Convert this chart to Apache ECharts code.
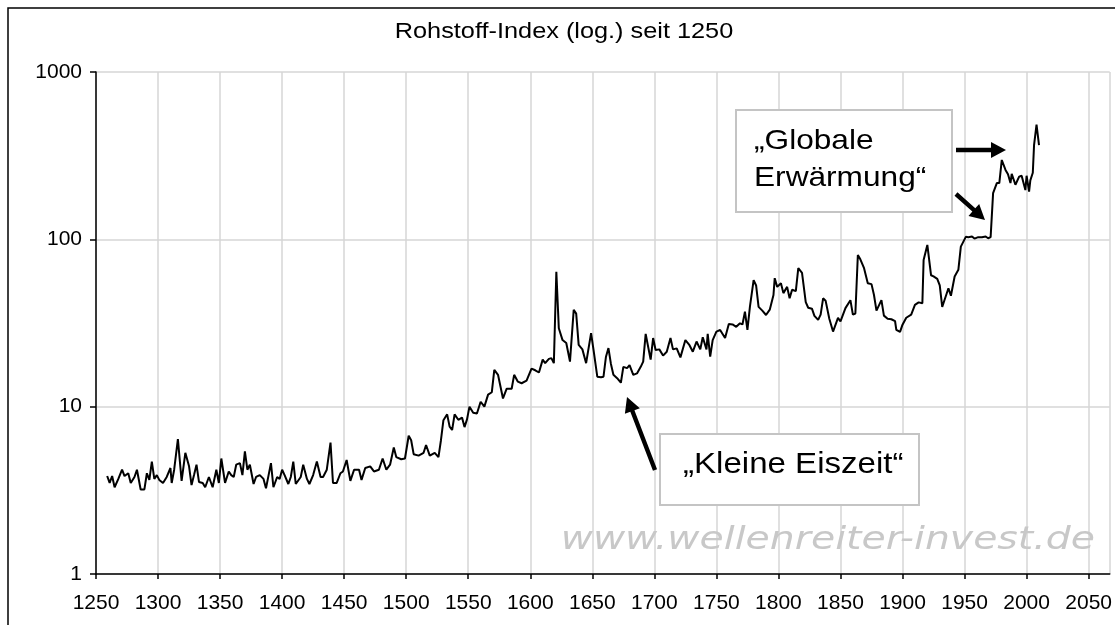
<!DOCTYPE html>
<html>
<head>
<meta charset="utf-8">
<title>Rohstoff-Index</title>
<script src="https://cdn.jsdelivr.net/npm/echarts@6/dist/echarts.min.js"></script>
<style>
  html, body { margin: 0; padding: 0; background: #fff; }
  #chart { width: 1115px; height: 625px; }
</style>
</head>
<body>
<div id="chart"></div>
<script>
// Jahre und Indexwerte
var years = [
  1259, 1261, 1263, 1265, 1268, 1271, 1273, 1276, 1278, 1281, 1283, 1286, 1289, 1291, 1293, 1295, 1297, 1299,
  1301, 1304, 1307, 1310, 1311, 1313, 1316, 1319, 1322, 1325, 1327, 1329, 1331, 1333, 1336, 1338, 1341, 1344,
  1347, 1349, 1351, 1354, 1357, 1359, 1361, 1363, 1366, 1368, 1370, 1372, 1374, 1377, 1379, 1382, 1385, 1387,
  1391, 1393, 1396, 1398, 1400, 1402, 1405, 1407, 1409, 1411, 1415, 1417, 1420, 1422, 1425, 1428, 1431, 1433,
  1436, 1439, 1441, 1444, 1447, 1449, 1452, 1455, 1458, 1462, 1464, 1467, 1471, 1474, 1478, 1481, 1484, 1487,
  1490, 1492, 1496, 1499, 1502, 1504, 1506, 1510, 1514, 1516, 1519, 1523, 1526, 1528, 1530, 1533, 1535, 1537,
  1539, 1542, 1545, 1547, 1549, 1551, 1554, 1557, 1560, 1563, 1566, 1569, 1571, 1574, 1578, 1581, 1585, 1587,
  1590, 1593, 1597, 1601, 1604, 1607, 1610, 1612, 1615, 1617, 1619, 1621, 1623, 1626, 1629, 1632, 1635, 1637,
  1639, 1642, 1645, 1649, 1651, 1654, 1657, 1659, 1661, 1663, 1665, 1667, 1670, 1673, 1675, 1678, 1680, 1683,
  1686, 1689, 1691, 1693, 1697, 1699, 1701, 1704, 1707, 1710, 1713, 1715, 1718, 1721, 1725, 1728, 1731, 1734,
  1737, 1739, 1742, 1743, 1745, 1747, 1750, 1753, 1757, 1760, 1763, 1766, 1769, 1771, 1773, 1775, 1777, 1780,
  1782, 1784, 1787, 1790, 1793, 1796, 1797, 1799, 1802, 1804, 1807, 1809, 1811, 1814, 1816, 1819, 1822, 1824,
  1827, 1829, 1832, 1834, 1836, 1838, 1841, 1844, 1848, 1850, 1854, 1858, 1860, 1862, 1864, 1866, 1869, 1872,
  1875, 1877, 1879, 1883, 1885, 1888, 1891, 1894, 1895, 1898, 1900, 1903, 1907, 1910, 1913, 1916, 1917, 1920,
  1923, 1925, 1928, 1930, 1932, 1935, 1937, 1939, 1942, 1945, 1947, 1951, 1953, 1956, 1958, 1961, 1964, 1967,
  1969, 1971, 1973, 1976, 1978, 1980, 1983, 1985, 1987, 1988, 1991, 1994, 1996, 1999, 2000, 2002, 2003, 2005,
  2006, 2008, 2010
];
var values = [
  3.85, 3.5, 3.85, 3.3, 3.7, 4.2, 3.85, 4.0, 3.5, 3.8, 4.2, 3.2, 3.2, 4.0, 3.65, 4.7, 3.7, 3.9,
  3.65, 3.5, 3.8, 4.3, 3.5, 4.2, 6.4, 3.6, 5.3, 4.4, 3.4, 3.9, 4.5, 3.55, 3.5, 3.3, 3.8, 3.3,
  4.2, 3.5, 4.9, 3.5, 4.1, 3.9, 3.8, 4.5, 4.6, 3.9, 5.4, 4.2, 4.5, 3.45, 3.8, 3.9, 3.7, 3.25,
  4.6, 3.3, 3.8, 3.7, 4.2, 3.9, 3.45, 3.8, 4.7, 3.45, 3.8, 4.5, 3.7, 3.45, 3.9, 4.7, 3.8, 3.8,
  4.2, 6.1, 3.5, 3.5, 4.0, 4.1, 4.8, 3.6, 4.2, 4.2, 3.65, 4.3, 4.4, 4.1, 4.2, 4.9, 4.2, 4.5,
  5.7, 5.0, 4.85, 4.9, 6.7, 6.3, 5.2, 5.1, 5.3, 5.9, 5.1, 5.3, 5.0, 6.3, 8.3, 9.0, 7.6, 7.25,
  9.0, 8.35, 8.6, 7.55, 8.4, 10.0, 9.2, 9.1, 10.7, 10.0, 11.8, 12.2, 16.6, 15.5, 11.2, 12.8, 12.8, 15.5,
  14.1, 13.8, 14.3, 16.9, 16.5, 16.0, 19.1, 18.2, 19.3, 19.5, 18.2, 64, 29.4, 25, 24, 18.6, 37.9, 36,
  23.4, 22, 18.2, 27.5, 21.8, 15.1, 15.0, 15.1, 19.9, 22.4, 18, 15.5, 14.8, 13.9, 17.3, 17, 17.7, 15.5,
  15.8, 17.3, 18.6, 27.2, 19.1, 25.7, 21.8, 22, 20.2, 21.3, 25.7, 22, 22.3, 19.7, 25, 23.5, 21.3, 24.5,
  22, 26, 22, 27.2, 19.9, 25, 28.1, 28.7, 25.7, 31.2, 31, 30, 31.5, 31, 37, 28.8, 39.5, 57,
  53, 39.5, 37.5, 35.3, 38, 46.5, 58.6, 52, 54.7, 47.7, 52, 44.5, 50, 49, 67.2, 63, 42.2, 39,
  38.5, 34.9, 33, 35.5, 44.4, 43, 33.5, 28.1, 33.9, 32.3, 38.8, 43.3, 35.5, 36, 80.6, 76, 67.2, 54.7,
  54, 46.5, 37.5, 43.3, 35, 33.5, 33.3, 32.4, 28.8, 28, 30.9, 34, 35.5, 40.6, 42, 41.5, 75.3, 92.6,
  61, 60, 58, 53, 39.5, 46, 51, 46, 60, 65.7, 90.5, 103.5, 103, 104, 101, 103, 103, 104,
  101.5, 103, 189, 217, 217, 298, 260, 245, 217, 246, 212, 237, 240, 197, 240, 193, 225, 250,
  365, 485, 365
];
var yearTicks = [1250, 2067];   // Achsenbereich
var indexRange = [1, 1000];

var titleText = 'Rohstoff-Index (log.) seit 1250';
var noteKlein = '\u201EKleine Eiszeit\u201C';
var noteGlobal = '\u201EGlobale\nErw\u00E4rmung\u201C';
var watermark = 'www.wellenreiter-invest.de';

var seriesData = years.map(function (y, i) { return [y, values[i]]; });

var font = 'Liberation Sans, Arial, sans-serif';

// Pfeil als Polygon
function arrow(x1, y1, x2, y2) {
  var dx = x2 - x1, dy = y2 - y1;
  var len = Math.sqrt(dx * dx + dy * dy);
  var ux = dx / len, uy = dy / len;
  var px = -uy, py = ux;
  var head = 15, hw = 8, sw = 2.2;
  var bx = x2 - ux * head, by = y2 - uy * head;
  return {
    type: 'polygon',
    shape: {
      points: [
        [x1 + px * sw, y1 + py * sw],
        [bx + px * sw, by + py * sw],
        [bx + px * hw, by + py * hw],
        [x2, y2],
        [bx - px * hw, by - py * hw],
        [bx - px * sw, by - py * sw],
        [x1 - px * sw, y1 - py * sw]
      ]
    },
    style: { fill: '#000' },
    z: 100
  };
}

var myChart = echarts.init(document.getElementById('chart'));

var option = {
  animation: false,
  backgroundColor: '#fff',
  grid: { left: 96, top: 72, right: 0, bottom: 51 },
  xAxis: {
    type: 'value',
    min: yearTicks[0],
    max: yearTicks[1],
    interval: 50,
    axisLine: { lineStyle: { color: '#000', width: 1.5 } },
    axisTick: { show: true, length: 5, lineStyle: { color: '#000', width: 1.5 } },
    axisLabel: {
      color: '#000', fontSize: 21, fontFamily: font, margin: 19,
      showMaxLabel: false,
      formatter: function (v) { return v % 50 === 0 ? String(v) : ''; }
    },
    splitLine: { show: true, lineStyle: { color: '#d6d6d6', width: 1.5 } }
  },
  yAxis: {
    type: 'log',
    logBase: 10,
    min: indexRange[0],
    max: indexRange[1],
    axisLine: { show: true, lineStyle: { color: '#000', width: 1.5 } },
    axisTick: { show: true, length: 6, lineStyle: { color: '#000', width: 1.5 } },
    axisLabel: {
      color: '#000', fontSize: 21, fontFamily: font, margin: 14,
      formatter: function (v) { return String(Math.round(v)); }
    },
    splitLine: { show: true, lineStyle: { color: '#d6d6d6', width: 1.5 } }
  },
  series: [{
    type: 'line',
    data: seriesData,
    showSymbol: false,
    symbol: 'none',
    lineStyle: { color: '#000', width: 2 },
    z: 5
  }],
  graphic: [
    {
      type: 'rect',
      shape: { x: 8, y: 8, width: 1200, height: 700 },
      style: { fill: 'none', stroke: '#000', lineWidth: 1.5 },
      silent: true, z: 0
    },
    {
      type: 'text', x: 564, y: 32, scaleX: 1.15,
      style: {
        text: titleText, fill: '#000', fontSize: 22, fontFamily: font,
        align: 'center', verticalAlign: 'middle', textAlign: 'center', textVerticalAlign: 'middle'
      }
    },
    {
      type: 'text', x: 1095, y: 541, scaleX: 1.23,
      style: {
        text: watermark, fill: '#c8c8c8', fontSize: 32, fontStyle: 'italic',
        fontFamily: 'DejaVu Sans, Verdana, sans-serif',
        align: 'right', verticalAlign: 'middle', textAlign: 'right', textVerticalAlign: 'middle'
      },
      z: 3
    },
    {
      type: 'rect',
      shape: { x: 660, y: 434, width: 259, height: 71 },
      style: { fill: '#fff', stroke: '#c4c4c4', lineWidth: 2 },
      z: 50
    },
    {
      type: 'text', x: 683, y: 465, scaleX: 1.14,
      style: {
        text: noteKlein, fill: '#000', fontSize: 29, fontFamily: font,
        align: 'left', verticalAlign: 'middle', textAlign: 'left', textVerticalAlign: 'middle'
      },
      z: 51
    },
    {
      type: 'rect',
      shape: { x: 736, y: 110, width: 216, height: 102 },
      style: { fill: '#fff', stroke: '#c4c4c4', lineWidth: 2 },
      z: 50
    },
    {
      type: 'text', x: 754, y: 160, scaleX: 1.13,
      style: {
        text: noteGlobal, fill: '#000', fontSize: 28, fontFamily: font, lineHeight: 37,
        align: 'left', verticalAlign: 'middle', textAlign: 'left', textVerticalAlign: 'middle'
      },
      z: 51
    },
    arrow(655, 470, 627, 397),
    arrow(956, 150, 1006, 150),
    arrow(956, 194, 985, 220)
  ]
};

myChart.setOption(option);
window.onresize = myChart.resize;
</script>
</body>
</html>
